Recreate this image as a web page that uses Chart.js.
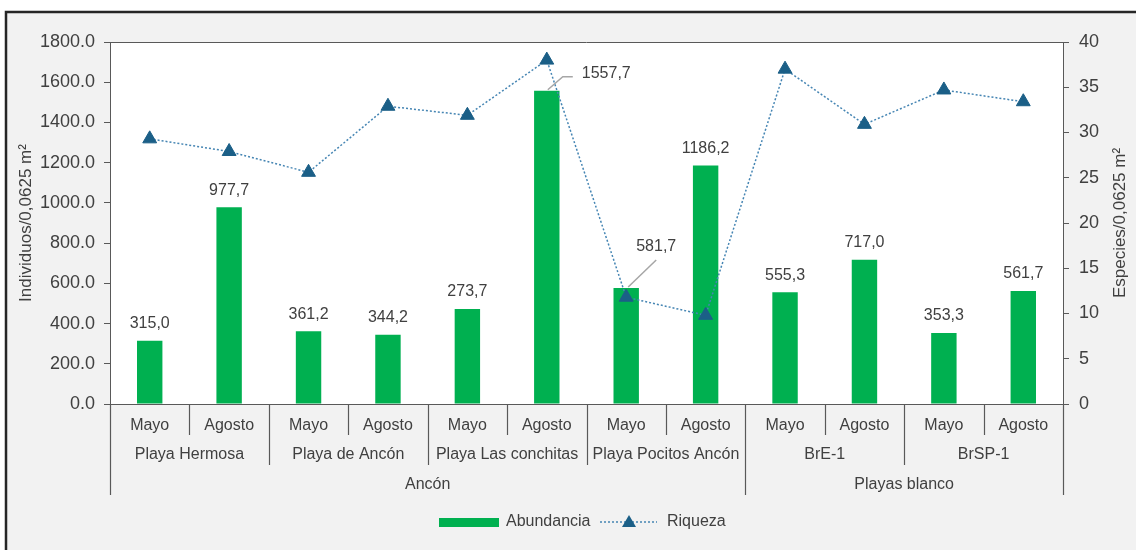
<!DOCTYPE html>
<html>
<head>
<meta charset="utf-8">
<script src="https://cdn.jsdelivr.net/npm/chart.js"></script>
<style>
  body { margin: 0; background: #ffffff; }
  canvas { display: block; }
</style>
</head>
<body>
<canvas id="chartCombo" width="1136" height="550"></canvas>
<script>
// data
const months = ["Mayo", "Agosto", "Mayo", "Agosto", "Mayo", "Agosto", "Mayo", "Agosto", "Mayo", "Agosto", "Mayo", "Agosto"];
const sites = ["Playa Hermosa", "Playa de Ancón", "Playa Las conchitas", "Playa Pocitos Ancón", "BrE-1", "BrSP-1"];
const regions = ["Ancón", "Playas blanco"];
const sitesPerRegion = [4, 2];
const abundancia = [315.0, 977.7, 361.2, 344.2, 472.0, 1557.7, 577.0, 1186.2, 555.3, 717.0, 353.3, 561.7];
const abundanciaLabels = ["315,0", "977,7", "361,2", "344,2", "273,7", "1557,7", "581,7", "1186,2", "555,3", "717,0", "353,3", "561,7"];
const riqueza = [29.3, 27.9, 25.6, 32.9, 31.9, 38.0, 11.8, 9.8, 37.0, 30.9, 34.7, 33.4];

const FONT = "'Liberation Sans', Arial, sans-serif";
const TXT = "#404040";
const AXIS = "#595959";
const GREEN = "#00b050";
const BLUE = "#1b5f87";
const DOTS = "#4585b3";

// labels that were moved off their bar, with a leader line
const movedLabels = {
  5: { dx: 35, dy: -17, align: "left", leader: [[1, -1], [16, -14], [26, -14]] },
  6: { dx: 30, dy: -41, align: "center", leader: [[2, -1], [30, -28]] }
};

const decorPlugin = {
  id: "decor",
  beforeDraw(chart) {
    const ctx = chart.ctx;
    const a = chart.chartArea;
    ctx.save();
    ctx.fillStyle = "#ffffff";
    ctx.fillRect(0, 0, chart.width, chart.height);
    ctx.fillStyle = "#f2f2f2";
    ctx.fillRect(7, 13, chart.width - 7, chart.height - 13);
    ctx.strokeStyle = "#262626";
    ctx.lineWidth = 2.5;
    ctx.beginPath();
    ctx.moveTo(6, chart.height);
    ctx.lineTo(6, 12);
    ctx.lineTo(chart.width, 12);
    ctx.stroke();
    ctx.fillStyle = "#ffffff";
    ctx.fillRect(a.left, a.top, a.right - a.left, a.bottom - a.top);
    ctx.restore();
  },
  afterDraw(chart) {
    const ctx = chart.ctx;
    const a = chart.chartArea;
    const x = chart.scales.x;
    ctx.save();

    // top border of plot
    ctx.strokeStyle = AXIS;
    ctx.lineWidth = 1;
    ctx.beginPath();
    ctx.moveTo(a.left, a.top + 0.5);
    ctx.lineTo(a.right, a.top + 0.5);
    ctx.stroke();

    // category separators, three levels deep
    const rowH = 30;
    const regionEnds = [];
    let acc = 0;
    sitesPerRegion.forEach(n => { acc += n * 2; regionEnds.push(acc); });
    const edge = i => {
      if (i === 0) return a.left;
      if (i === months.length) return a.right;
      return (x.getPixelForValue(i - 1) + x.getPixelForValue(i)) / 2;
    };
    ctx.strokeStyle = AXIS;
    ctx.lineWidth = 1.2;
    for (let i = 0; i <= months.length; i++) {
      let depth = 1;
      if (i % 2 === 0) depth = 2;
      if (i === 0 || regionEnds.includes(i)) depth = 3;
      const px = Math.round(edge(i)) + 0.5;
      ctx.beginPath();
      ctx.moveTo(px, a.bottom);
      ctx.lineTo(px, a.bottom + rowH * depth + 1);
      ctx.stroke();
    }

    ctx.fillStyle = TXT;
    ctx.font = "16px " + FONT;
    ctx.textAlign = "center";
    ctx.textBaseline = "middle";
    sites.forEach((s, k) => {
      const cx = (edge(k * 2) + edge(k * 2 + 2)) / 2;
      ctx.fillText(s, cx, a.bottom + rowH * 1.5 + 6);
    });
    let start = 0;
    regions.forEach((r, k) => {
      const end = regionEnds[k];
      const cx = (edge(start) + edge(end)) / 2;
      ctx.fillText(r, cx, a.bottom + rowH * 2.5 + 6);
      start = end;
    });

    // bar value labels
    const bars = chart.getDatasetMeta(0).data;
    bars.forEach((bar, i) => {
      const m = movedLabels[i];
      if (m) {
        ctx.strokeStyle = "#a6a6a6";
        ctx.lineWidth = 1.5;
        ctx.beginPath();
        m.leader.forEach((p, j) => {
          if (j === 0) ctx.moveTo(bar.x + p[0], bar.y + p[1]);
          else ctx.lineTo(bar.x + p[0], bar.y + p[1]);
        });
        ctx.stroke();
        ctx.textAlign = m.align;
        ctx.fillText(abundanciaLabels[i], bar.x + m.dx, bar.y + m.dy);
      } else {
        ctx.textAlign = "center";
        ctx.fillText(abundanciaLabels[i], bar.x, bar.y - 17);
      }
    });

    // axis titles
    const midY = (a.top + a.bottom) / 2;
    ctx.textAlign = "center";
    ctx.font = "17px " + FONT;
    [["Individuos/0,0625 m²", 26], ["Especies/0,0625 m²", 1120]].forEach(t => {
      ctx.save();
      ctx.translate(t[1], midY);
      ctx.rotate(-Math.PI / 2);
      ctx.fillText(t[0], 0, 0);
      ctx.restore();
    });

    // legend
    ctx.font = "16px " + FONT;
    const ly = 522;
    ctx.fillStyle = GREEN;
    ctx.fillRect(439, ly - 4, 60, 9);
    ctx.fillStyle = TXT;
    ctx.textAlign = "left";
    ctx.fillText(chart.data.datasets[0].label, 506, ly);
    ctx.strokeStyle = DOTS;
    ctx.lineWidth = 1.5;
    ctx.setLineDash([2, 2]);
    ctx.beginPath();
    ctx.moveTo(600, ly);
    ctx.lineTo(657, ly);
    ctx.stroke();
    ctx.setLineDash([]);
    ctx.fillStyle = BLUE;
    ctx.beginPath();
    ctx.moveTo(629, ly - 7);
    ctx.lineTo(636, ly + 5);
    ctx.lineTo(622, ly + 5);
    ctx.closePath();
    ctx.fill();
    ctx.fillStyle = TXT;
    ctx.fillText(chart.data.datasets[1].label, 667, ly);

    ctx.restore();
  }
};

const data = {
  labels: months,
  datasets: [
    {
      type: "bar",
      label: "Abundancia",
      data: abundancia,
      backgroundColor: GREEN,
      borderWidth: 0,
      barPercentage: 0.32,
      categoryPercentage: 1,
      yAxisID: "y",
      order: 2
    },
    {
      type: "line",
      label: "Riqueza",
      data: riqueza,
      borderColor: DOTS,
      borderWidth: 1.5,
      borderDash: [2, 2],
      pointStyle: "triangle",
      pointRadius: 8,
      pointBackgroundColor: BLUE,
      pointBorderColor: BLUE,
      pointBorderWidth: 1,
      tension: 0,
      yAxisID: "y1",
      order: 1
    }
  ]
};

const configCombo = {
  type: "bar",
  data,
  options: {
    responsive: false,
    animation: false,
    devicePixelRatio: 1,
    layout: { padding: { top: 42, left: 0, right: 0, bottom: 0 } },
    plugins: { legend: { display: false }, tooltip: { enabled: false } },
    scales: {
      x: {
        offset: true,
        grid: { display: true, drawOnChartArea: false, drawTicks: false },
        border: { display: true, color: AXIS },
        ticks: { color: TXT, font: { family: FONT, size: 16 }, padding: 12, maxRotation: 0, autoSkip: false },
        afterFit: s => { s.height = 146; }
      },
      y: {
        position: "left",
        min: 0,
        max: 1800,
        grid: { drawOnChartArea: false, tickLength: 6, color: AXIS },
        border: { display: true, color: AXIS },
        ticks: { stepSize: 200, color: TXT, font: { family: FONT, size: 18 }, padding: 9, callback: v => v.toFixed(1) },
        afterFit: s => { s.width = 110; }
      },
      y1: {
        position: "right",
        min: 0,
        max: 40,
        grid: { drawOnChartArea: false, tickLength: 6, color: AXIS },
        border: { display: true, color: AXIS },
        ticks: { stepSize: 5, color: TXT, font: { family: FONT, size: 18 }, padding: 10 },
        afterFit: s => { s.width = 73; }
      }
    }
  },
  plugins: [decorPlugin]
};

var chartCombo = new Chart(document.getElementById("chartCombo"), configCombo);
</script>
</body>
</html>
